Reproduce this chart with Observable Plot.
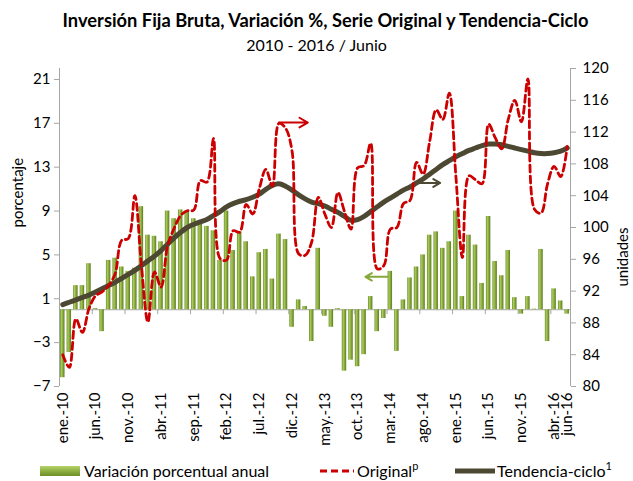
<!DOCTYPE html>
<html>
<head>
<meta charset="utf-8">
<script src="https://cdn.jsdelivr.net/npm/d3@7"></script>
<script src="https://cdn.jsdelivr.net/npm/@observablehq/plot@0.6"></script>
<style>
  body { margin: 0; background: #fff; font-family: Lato, "Open Sans", sans-serif; color: #000; }
  #wrap { position: relative; width: 633px; height: 481px; overflow: hidden; }
  #title { position: absolute; top: 9px; left: 9px; width: 633px; text-align: center; font-weight: bold; font-size: 18.3px; line-height: 22px; }
  #subtitle { position: absolute; top: 35px; left: 0; width: 633px; text-align: center; font-size: 16px; line-height: 20px; }
  #chart { position: absolute; top: 58px; left: 0; }
  .lg { position: absolute; top: 462px; font-size: 16px; line-height: 18px; white-space: nowrap; }
  .lg sup { font-size: 11px; vertical-align: baseline; position: relative; top: -7px; line-height: 0; }
</style>
</head>
<body>
<div id="wrap">
  <div id="title">Inversión Fija Bruta, Variación %, Serie Original y Tendencia-Ciclo</div>
  <div id="subtitle">2010 - 2016 / Junio</div>
  <div id="chart"></div>
  <div class="lg" style="left:40px;top:466px;width:40px;height:10px;background:linear-gradient(to bottom,#b5d46c,#86a83a 60%,#6f8f2a);"></div>
  <div class="lg" style="left:84px;">Variación porcentual anual</div>
  <svg class="lg" style="left:320px;top:466px;" width="34" height="10"><line x1="0" y1="5" x2="34" y2="5" stroke="#cc0000" stroke-width="3" stroke-dasharray="7,4"/></svg>
  <div class="lg" style="left:357px;">Original<sup>p</sup></div>
  <svg class="lg" style="left:455px;top:466px;" width="40" height="10"><line x1="0" y1="5" x2="40" y2="5" stroke="#4d4832" stroke-width="5" stroke-linecap="round"/></svg>
  <div class="lg" style="left:497px;">Tendencia-ciclo<sup>1</sup></div>
</div>
<script>
// ---- data ----
const monthNames = ["ene.","feb.","mar.","abr.","may.","jun.","jul.","ago.","sep.","oct.","nov.","dic."];
const years = [10, 11, 12, 13, 14, 15, 16];
const nMonths = 78; // ene.-10 .. jun.-16
const categories = [];
for (const y of years) for (const m of monthNames) if (categories.length < nMonths) categories.push(m + "-" + y);

// Variación porcentual anual (left axis, %)
const variacion = [
  -6.2, -3.9, 2.2, 2.2, 4.2, 0.1, -2.0, 4.5, 4.7, 3.9, 3.5, 3.8,
   9.4,  6.8, 6.7, 6.2, 9.0, 8.3,  9.1, 9.0, 8.3, 7.8, 7.6, 7.2,
   4.5,  9.0, 5.4, 7.1, 6.2, 3.0,  5.2, 5.5, 2.8, 6.9, 6.4, -1.6,
   0.9,  0.3, -2.9, 5.6, -0.6, -1.6, 0.1, -5.6, -4.6, -5.2, -4.1, 1.2,
  -2.0, -0.8, 3.5, -3.8, 0.9, 2.9, 3.9, 5.0, 6.8, 7.1, 5.6, 6.2,
   9.0,  1.2, 6.8, 5.9, 2.4, 8.5, 4.4, 3.1, 5.4, 1.1, -0.4, 1.2,
   0.05, 5.5, -2.9, 1.9, 0.8, -0.4
];
// Serie original (right axis, unidades)
const original = [
   84.0, 82.4, 88.5, 86.8, 89.8, 91.4, 91.9, 92.7, 94.2, 98.4, 98.6, 104.0,
   95.2, 88.1, 94.4, 92.5, 97.7, 99.9, 101.5, 102.1, 102.2, 105.9, 105.7, 111.2,
   96.1, 95.9, 99.6, 99.4, 102.9, 101.7, 104.9, 107.3, 105.2, 113.1, 112.5, 109.6,
   96.7, 96.5, 98.2, 103.8, 101.7, 100.0, 104.4, 102.0, 99.8, 107.5, 107.8, 110.6,
   94.8, 95.2, 99.8, 100.0, 103.0, 103.4, 108.2, 106.7, 110.8, 114.8, 113.6, 116.9,
  106.5, 96.2, 106.5, 106.0, 105.5, 113.0, 111.3, 109.9, 113.6, 116.0, 113.3, 118.7,
  102.3, 101.8, 105.5, 107.7, 106.4, 110.2
];
// Tendencia-ciclo (right axis, unidades)
const tendencia = [
   90.3, 90.6, 90.9, 91.2, 91.5, 91.9, 92.3, 92.7, 93.1, 93.6, 94.1, 94.6,
   95.2, 95.8, 96.4, 97.1, 97.9, 98.7, 99.4, 100.0, 100.4, 100.7, 101.0, 101.5,
  102.0, 102.6, 103.0, 103.3, 103.5, 103.8, 104.2, 104.8, 105.3, 105.5, 105.2, 104.7,
  104.1, 103.6, 103.2, 103.0, 102.7, 102.3, 101.9, 101.4, 100.9, 101.0, 101.4, 102.0,
  102.6, 103.2, 103.7, 104.2, 104.7, 105.1, 105.6, 106.1, 106.7, 107.3, 107.9, 108.4,
  108.9, 109.3, 109.7, 110.0, 110.3, 110.5, 110.5, 110.4, 110.2, 110.0, 109.8, 109.6,
  109.4, 109.3, 109.3, 109.4, 109.6, 110.0
];
const tickIndex  = [0, 5, 10, 15, 20, 25, 30, 35, 40, 45, 50, 55, 60, 65, 70, 75, 77];
const tickLabels = ["ene.-10","jun.-10","nov.-10","abr.-11","sep.-11","feb.-12","jul.-12","dic.-12",
                    "may.-13","oct.-13","mar.-14","ago.-14","ene.-15","jun.-15","nov.-15","abr.-16","jun-16"];
const leftTicks  = [-7, -3, 1, 5, 9, 13, 17, 21];
const rightTicks = [80, 84, 88, 92, 96, 100, 104, 108, 112, 116, 120];
const leftDomain = [-7, 22];
const rightDomain = [80, 120];
// annotation arrows: [from index, to index, value, axis]
const arrowFrom  = [33, 54, 49.6];
const arrowTo    = [37.4, 57.6, 46.2];
const arrowValue = [113.2, 105.6, 3.0];
const arrowAxis  = ["right", "right", "left"];
const arrowColor = ["#cc0000", "#4d4832", "#86a83a"];

// ---- helpers ----
const toL = v => leftDomain[0] + (v - rightDomain[0]) * (leftDomain[1] - leftDomain[0]) / (rightDomain[1] - rightDomain[0]);
const toR = v => rightDomain[0] + (v - leftDomain[0]) * (rightDomain[1] - rightDomain[0]) / (leftDomain[1] - leftDomain[0]);

const rows = categories.map((c, i) => ({i, c, bar: variacion[i], orig: original[i], trend: tendencia[i]}));
const arrows = arrowFrom.map((f, k) => ({
  x1: f, x2: arrowTo[k],
  y: arrowAxis[k] === "right" ? toL(arrowValue[k]) : arrowValue[k],
  color: arrowColor[k]
}));
const bounds = d3.range(-0.5, nMonths, 5).filter(d => d > -0.5);

const axisGray = "#a6a6a6";
const plot = Plot.plot({
  width: 633,
  height: 400,
  marginTop: 10,
  marginBottom: 72,
  marginLeft: 59,
  marginRight: 63,
  style: {fontFamily: "Lato, 'Open Sans', sans-serif", fontSize: "15px", color: "#000", background: "transparent"},
  x: {type: "linear", domain: [-0.5, nMonths - 0.5]},
  y: {domain: leftDomain},
  marks: [
    Plot.ruleY([0], {stroke: axisGray, strokeWidth: 1}),
    Plot.rectY(rows, {x1: d => d.i - 0.34, x2: d => d.i + 0.34, y1: 0, y2: "bar", fill: "url(#barGrad)"}),
    Plot.ruleX(bounds, {x: d => d, y1: 0, y2: -0.45, stroke: axisGray}),
    Plot.line(rows, {x: "i", y: d => toL(d.trend), stroke: "#4d4832", strokeWidth: 5, curve: "catmull-rom", strokeLinecap: "round"}),
    Plot.line(rows, {x: "i", y: d => toL(d.orig), stroke: "#cc0000", strokeWidth: 2.8, strokeDasharray: "7,4", curve: "catmull-rom"}),
    Plot.arrow(arrows, {x1: "x1", x2: "x2", y1: "y", y2: "y", stroke: "color", strokeWidth: 2, headLength: 8}),
    Plot.ruleX([-0.5], {stroke: axisGray}),
    Plot.ruleX([nMonths - 0.5], {stroke: axisGray}),
    Plot.axisY(leftTicks, {anchor: "left", tickSize: 5, tickPadding: 4, stroke: axisGray, fill: "#000", label: null}),
    Plot.axisY(rightTicks.map(toL), {anchor: "right", tickSize: 5, tickPadding: 7, stroke: axisGray, fill: "#000", label: null,
      tickFormat: d => String(Math.round(toR(d)))}),
    Plot.axisX(tickIndex, {anchor: "bottom", tickSize: 0, tickPadding: 6, tickRotate: -90, fill: "#000", label: null,
      tickFormat: d => tickLabels[tickIndex.indexOf(d)]}),
    Plot.text(["porcentaje"], {frameAnchor: "left", dx: -41, rotate: -90, fontSize: 15, fill: "#000"}),
    Plot.text(["unidades"], {frameAnchor: "right", dx: 53, rotate: -90, fontSize: 15, fill: "#000"})
  ]
});

// bar gradient
const svg = d3.select(plot);
const defs = svg.insert("defs", ":first-child");
const g = defs.append("linearGradient").attr("id", "barGrad").attr("x1", "0").attr("x2", "1").attr("y1", "0").attr("y2", "0");
[["0%", "#6a8a26"], ["30%", "#a9cc5e"], ["55%", "#8fb141"], ["100%", "#5d7b20"]].forEach(([o, c]) =>
  g.append("stop").attr("offset", o).attr("stop-color", c));

document.getElementById("chart").appendChild(plot);
</script>
</body>
</html>
